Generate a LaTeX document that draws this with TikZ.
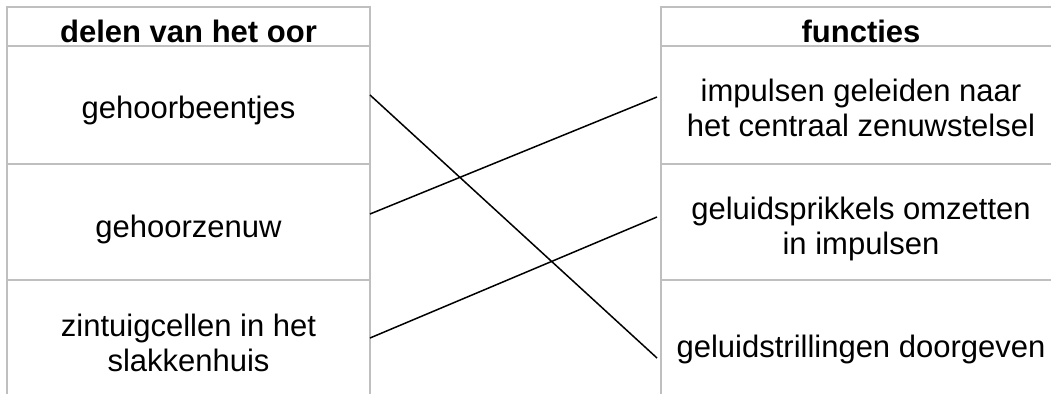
\documentclass[tikz,border=0pt]{standalone}
\usepackage{fontspec}
\setmainfont{Liberation Sans}
\begin{document}
\begin{tikzpicture}[x=1pt,y=-1pt]
    % `cell' is used for the texts in the table cells.
    % `header' is used for the bold column titles.
    % `grid' is used for the grey table lines, `link' for the matching lines.
    \tikzstyle{cell} = [align=center,inner sep=0pt,font=\fontsize{31}{35}\selectfont]
    \tikzstyle{header} = [cell,font=\fontsize{31}{35}\selectfont\bfseries]
    \tikzstyle{grid} = [draw=black!25,line width=2pt]
    \tikzstyle{link} = [draw=black,line width=1.5pt]
    \useasboundingbox (0,0) rectangle (1051,394);
    %
    % Draw left table.
    \draw[grid] (7,394) -- (7,7) -- (370,7) -- (370,394);
    \draw[grid] (7,46) -- (370,46)   (7,164) -- (370,164)   (7,280) -- (370,280);
    \node[header] (deel0) at (188.5,31) {delen van het oor};
    \node[cell] (deel1) at (188.5,110) {gehoorbeentjes};
    \node[cell] (deel2) at (188.5,229) {gehoorzenuw};
    \node[cell] (deel3) at (188.5,343) {zintuigcellen in het\\slakkenhuis};
    %
    % Draw right table.
    \draw[grid] (661,394) -- (661,7) -- (1051,7);
    \draw[grid] (661,46) -- (1051,46)   (661,164) -- (1051,164)   (661,280) -- (1051,280);
    \node[header] (fun0) at (861,31) {functies};
    \node[cell] (fun1) at (861,107.5) {impulsen geleiden naar\\het centraal zenuwstelsel};
    \node[cell] (fun2) at (861,229) {geluidsprikkels omzetten\\in impulsen};
    \node[cell] (fun3) at (861,349) {geluidstrillingen doorgeven};
    %
    % Draw lines.
    \coordinate (end1) at (370,95);
    \coordinate (end2) at (370,214);
    \coordinate (end3) at (370,338);
    \coordinate (start1) at (657,97);
    \coordinate (start2) at (657,217);
    \coordinate (start3) at (657,358);
    \draw[link] (end1) -- (start3)   (end2) -- (start1)   (end3) -- (start2);
\end{tikzpicture}
\end{document}
